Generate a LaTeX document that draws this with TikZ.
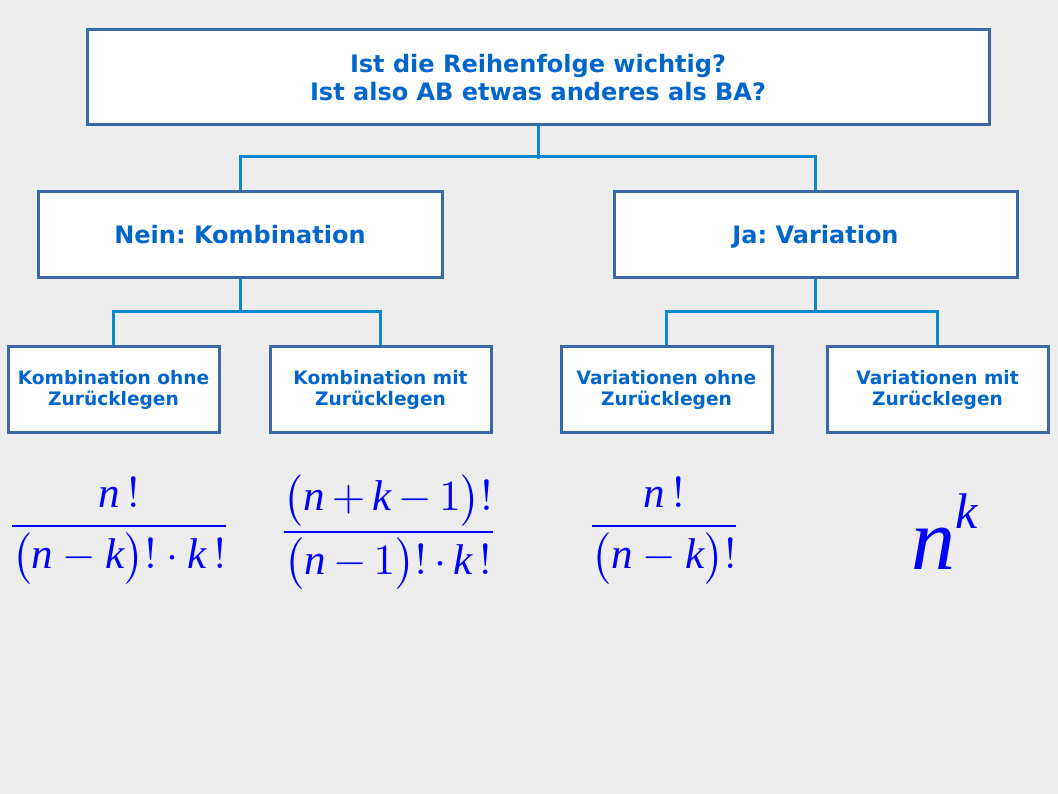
\RequirePackage{fix-cm}
\documentclass[tikz,border=0pt]{standalone}
\usepackage{fontspec}
\usepackage{graphicx}
\setmainfont{DejaVu Sans}
\newfontfamily\libserif{Liberation Serif}[NFSSFamily=libser]
\DeclareSymbolFont{libit}{TU}{libser}{m}{it}
\DeclareSymbolFont{libup}{TU}{libser}{m}{n}
\DeclareMathSymbol{n}{\mathalpha}{libit}{`n}
\DeclareMathSymbol{k}{\mathalpha}{libit}{`k}
\DeclareMathSymbol{!}{\mathclose}{libit}{`!}
\DeclareMathSymbol{1}{\mathalpha}{libup}{`1}
\frenchspacing
\definecolor{bg}{HTML}{EDEDED}
\definecolor{boxc}{HTML}{3A69A8}
\definecolor{linec}{HTML}{0A88D0}
\definecolor{txtc}{HTML}{0066CC}
\definecolor{mathc}{HTML}{0000FF}
\newcommand{\Fml}[1]{\scalebox{4.3}{$\displaystyle #1$}}
\begin{document}
\begin{tikzpicture}[x=1pt,y=-1pt,
  box/.style={draw=boxc,line width=3pt,fill=white,inner sep=0pt,align=center,text=txtc,font=\bfseries},
  big/.style={box,font=\fontsize{24}{28}\selectfont\bfseries},
  mid/.style={big,minimum height=86pt,text height=18pt,text depth=0pt},
  small/.style={box,font=\fontsize{18.6}{21}\selectfont\bfseries,minimum height=85pt},
  conn/.style={draw=linec,line width=3pt},
  formula/.style={text=mathc,inner sep=0pt,font=\fontsize{10}{12}\selectfont}]
\fill[bg] (0,0) rectangle (1058,794);
\useasboundingbox (0,0) rectangle (1058,794);
\node[big,minimum width=902pt,minimum height=95pt] (top) at (538,77.5) {Ist die Reihenfolge wichtig?\\Ist also AB etwas anderes als BA?};
\node[mid,minimum width=404pt] (nein) at (240,235) {Nein: Kombination};
\node[mid,minimum width=403pt] (ja) at (815.5,235) {Ja: Variation};
\node[small,minimum width=211pt] (ko) at (113.5,389.5) {Kombination ohne\\Zurücklegen};
\node[small,minimum width=221pt] (km) at (380.5,389.5) {Kombination mit\\Zurücklegen};
\node[small,minimum width=211pt] (vo) at (666.5,389.5) {Variationen ohne\\Zurücklegen};
\node[small,minimum width=221pt] (vm) at (937.5,389.5) {Variationen mit\\Zurücklegen};
\draw[conn] (top.south) -- ++(0,33);
\draw[conn] (nein.north) -- ++(0,-34) -| (ja.north);
\draw[conn] (nein.south) -- ++(0,34);
\draw[conn] (ko.north) -- ++(0,-34) -| (km.north);
\draw[conn] (ja.south) -- ++(0,34);
\draw[conn] (vo.north) -- ++(0,-34) -| (vm.north);
\node[formula] (f1) at (119,531) {\Fml{\frac{n\mkern3mu!}{\bigl(n-k\bigr)!\cdot k\mkern3mu!}}};
\node[formula] (f2) at (388,532) {\medmuskip=3mu\Fml{\frac{\bigl(n+k-1\bigr)!}{\bigl(n-1\bigr)!\cdot k\mkern3mu!}}};
\node[formula] (f3) at (664,531) {\Fml{\frac{n\mkern3mu!}{\bigl(n-k\bigr)!}}};
\node[formula,anchor=base,font=\fontsize{88}{96}\selectfont] (f4) at (945,569) {$n^{\raisebox{9pt}{\fontsize{50}{56}\selectfont$k$}}$};
\end{tikzpicture}
\end{document}
